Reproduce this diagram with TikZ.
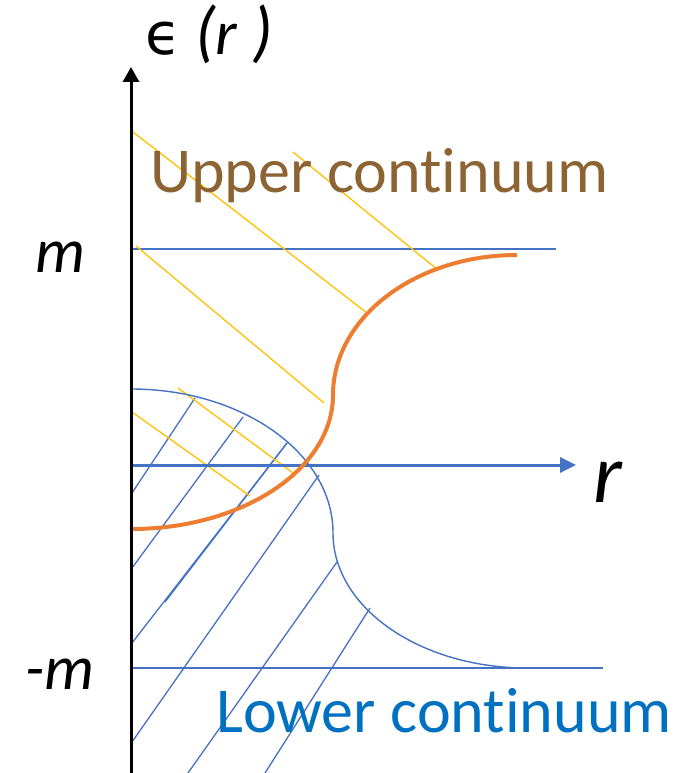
\documentclass[tikz,border=0pt]{standalone}
\usepackage{fontspec}
\setmainfont[Ligatures={NoCommon}]{Carlito}
\newfontfamily\dejavu{DejaVu Sans}
\usetikzlibrary{arrows.meta}
\definecolor{axblue}{HTML}{4472C4}
\definecolor{orng}{HTML}{ED7D31}
\definecolor{goldy}{HTML}{FFC000}
\definecolor{upbrown}{RGB}{140,100,52}
\definecolor{lowblue}{HTML}{0070C0}
\tikzset{
  hatchb/.style={axblue, line width=1.3pt},
  hatchy/.style={goldy, line width=1.3pt},
  levelline/.style={axblue, line width=1.4pt},
  bigtext/.style={anchor=base west, inner sep=0pt, font=\fontsize{64}{70}\selectfont},
  labtext/.style={anchor=base west, inner sep=0pt, font=\fontsize{63}{70}\selectfont\itshape},
}
\begin{document}
\begin{tikzpicture}[x=1pt,y=-1pt]
\useasboundingbox (0,0) rectangle (693,773);
% level lines
\coordinate (m0) at (131,249); \coordinate (m1) at (556,249);
\coordinate (n0) at (131,668); \coordinate (n1) at (603,668);
\draw[levelline] (m0) -- (m1);
\draw[levelline] (n0) -- (n1);
% blue hatch lines
\draw[hatchb] (132,493) -- (195,398);
\draw[hatchb] (132,568) -- (243,417);
\draw[hatchb] (132,643) -- (287,443);
\draw[hatchb] (165,602) -- (287,443);
\draw[hatchb] (132,742) -- (319,475);
\draw[hatchb] (188,773) -- (337,562);
\draw[hatchb] (265,773) -- (370,608);
% yellow hatch lines
\draw[hatchy] (133,132) -- (367,313);
\draw[hatchy] (293,152) -- (438,270);
\draw[hatchy] (136,246) -- (324,403);
\draw[hatchy] (178,388) -- (293,473);
\draw[hatchy] (132,412) -- (250,496);
% blue boundary curve
\coordinate (b0) at (131,389);
\coordinate (b1) at (333,533);
\coordinate (b2) at (527,668);
\draw[axblue, line width=1.4pt] (b0) .. controls (242.6,389) and (333,453.5) .. (b1)
   .. controls (333,607.6) and (419.9,668) .. (b2);
% r axis
\coordinate (r0) at (131,465);
\coordinate (r1) at (576,465);
\draw[axblue, line width=3pt, -{Triangle[length=16pt,width=15pt]}] (r0) -- (r1);
% orange curve
\coordinate (o0) at (131,529);
\coordinate (o1) at (333,395);
\coordinate (o2) at (517,255);
\draw[orng, line width=4pt] (o0) .. controls (242.6,529) and (333,469) .. (o1)
   .. controls (333,317.7) and (415.4,255) .. (o2);
% epsilon axis
\coordinate (e0) at (131,773);
\coordinate (e1) at (131,67);
\draw[black, line width=3pt, -{Triangle[length=15pt,width=16pt]}] (e0) -- (e1);
% texts
\node[bigtext, text=upbrown] (upper) at (150,192) {Upper continuum};
\node[bigtext, text=lowblue] (lower) at (216,732) {Lower continuum};
\node[labtext] (mlab) at (35,272) {m};
\node[labtext] (mmlab) at (25,689) {-m};
\node[labtext, font=\fontsize{84}{90}\selectfont\itshape] (rlab) at (593,502) {r};
\node[labtext] (elab) at (145,55) {{\dejavu\upshape\fontsize{58}{60}\selectfont ϵ} {\fontsize{68}{70}\selectfont(}r{\fontsize{68}{70}\selectfont\ )}};
\end{tikzpicture}
\end{document}
